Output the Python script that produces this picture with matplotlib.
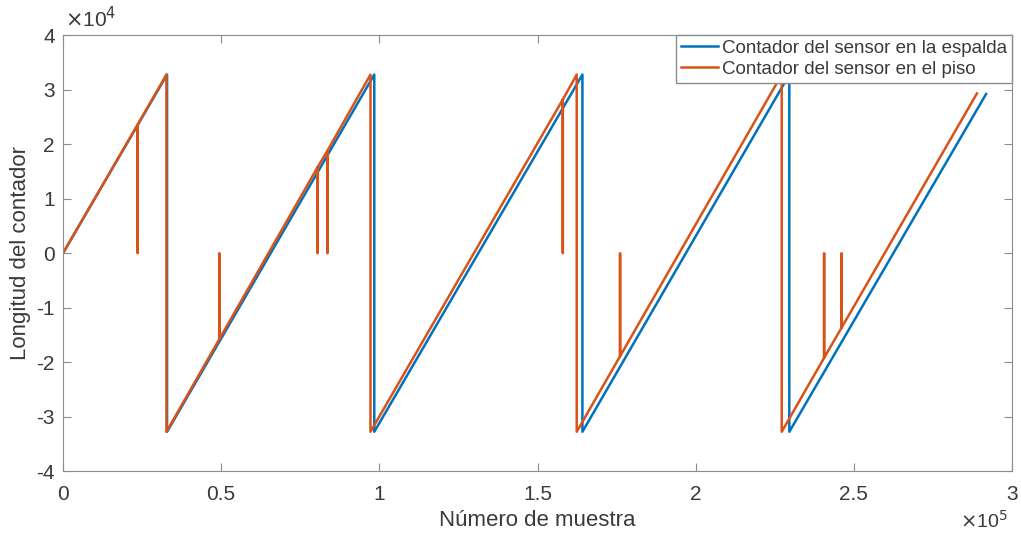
import matplotlib
matplotlib.use("Agg")
import matplotlib.pyplot as plt

# vertices del contador del sensor en la espalda (azul)
espalda_x = [0, 32900, 32901, 98400, 98401, 164200, 164201, 229600, 229601, 291800]
espalda_y = [0, 32767, -32768, 32767, -32768, 32767, -32768, 32767, -32768, 29200]

# vertices del contador del sensor en el piso (naranja), con los reinicios a 0
piso_x = [0, 23600, 23600, 23601, 32700, 32701,
          49400, 49400, 49401, 80500, 80500, 80501, 83600, 83600, 83601, 97200, 97201,
          158000, 158000, 158001, 162400, 162401,
          176100, 176100, 176101, 227200, 227201,
          240600, 240600, 240601, 246100, 246100, 246101, 288900]
piso_y = [0, 23600, 0, 23600, 32767, -32768,
          -15800, 0, -15800, 15800, 0, 15800, 18800, 0, 18800, 32767, -32768,
          28200, 0, 28200, 32767, -32768,
          -18900, 0, -18900, 32767, -32768,
          -19200, 0, -19200, -13700, 0, -13700, 29300]

xticks = [0, 50000, 100000, 150000, 200000, 250000, 300000]
xtick_labels = ['0', '0.5', '1', '1.5', '2', '2.5', '3']
yticks = [-40000, -30000, -20000, -10000, 0, 10000, 20000, 30000, 40000]
ytick_labels = ['-4', '-3', '-2', '-1', '0', '1', '2', '3', '4']

plt.rcParams['font.family'] = ['Liberation Sans', 'DejaVu Sans']

fig = plt.figure(figsize=(10.21, 5.33), dpi=100)
ax = fig.add_axes([0.0617, 0.116, 0.9295, 0.818])

ax.plot(espalda_x, espalda_y, color='#0072BD', lw=1.8, label='Contador del sensor en la espalda')
ax.plot(piso_x, piso_y, color='#D95319', lw=1.8, label='Contador del sensor en el piso')

ax.set_xlim(0, 300000)
ax.set_ylim(-40000, 40000)
ax.set_xticks(xticks)
ax.set_xticklabels(xtick_labels)
ax.set_yticks(yticks)
ax.set_yticklabels(ytick_labels)

gris = '#8c8c8c'
texto = '#3a3a3a'
for s in ax.spines.values():
    s.set_color(gris)
ax.tick_params(direction='in', top=True, right=True, length=6, color=gris,
               labelsize=15, labelcolor=texto)
ax.tick_params(axis='x', pad=10)
ax.tick_params(axis='y', pad=6)

ax.set_xlabel('Número de muestra', fontsize=16, color=texto, labelpad=4)
ax.set_ylabel('Longitud del contador', fontsize=16, color=texto, labelpad=4)

ax.text(0.002, 1.01, r'$\times$10$^4$', transform=ax.transAxes, fontsize=15,
        color=texto, ha='left', va='bottom')
ax.text(0.995, -0.088, r'$\times$10$^5$', transform=ax.transAxes, fontsize=14,
        color=texto, ha='right', va='top')

leg = ax.legend(loc='upper right', borderaxespad=0, fancybox=False, edgecolor=gris,
                framealpha=1, fontsize=13.5, handlelength=2.0, handletextpad=0.2,
                labelspacing=0.2, borderpad=0.25)
leg.get_frame().set_linewidth(1.0)
for t in leg.get_texts():
    t.set_color(texto)

fig.savefig('out.png', dpi=100)
